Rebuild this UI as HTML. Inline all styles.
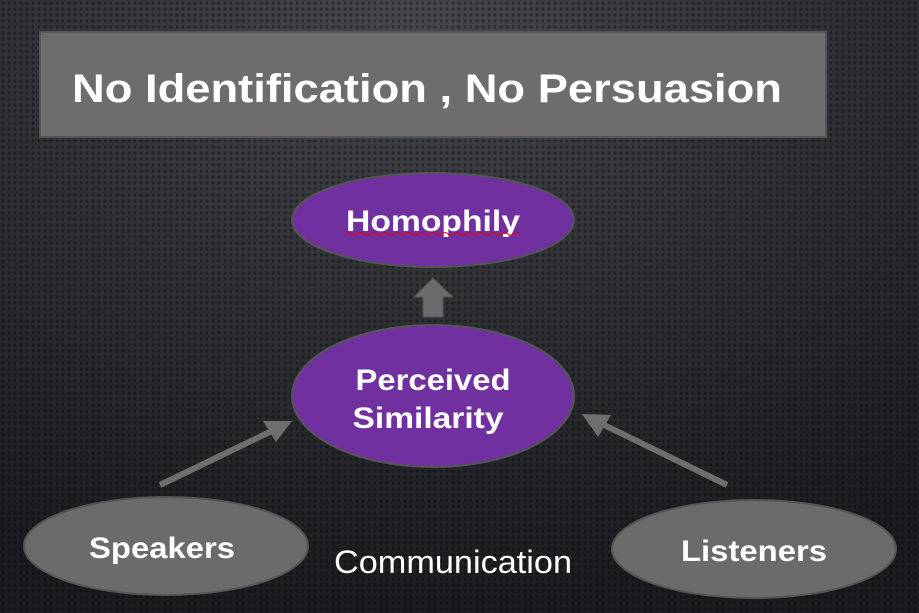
<!DOCTYPE html>
<html><head><meta charset="utf-8"><style>
html,body{margin:0;padding:0;background:#222;}
svg{display:block;}
text{font-family:"Liberation Sans",sans-serif;fill:#fff;}
</style></head><body>
<svg width="919" height="613" viewBox="0 0 919 613" xmlns="http://www.w3.org/2000/svg">
<defs>
<radialGradient id="bg" cx="0.45" cy="0.05" r="0.95">
<stop offset="0" stop-color="#45484d"/>
<stop offset="0.5" stop-color="#2e3034"/>
<stop offset="1" stop-color="#1b1c1f"/>
</radialGradient>
<pattern id="dots" width="6" height="6" patternUnits="userSpaceOnUse">
<circle cx="3" cy="3" r="1.6" fill="#000" fill-opacity="0.35"/>
</pattern>
</defs>
<rect width="919" height="613" fill="url(#bg)"/>
<rect width="919" height="613" fill="url(#dots)"/>
<rect x="40" y="32" width="786" height="105" fill="#6d6d6d" stroke="#555" stroke-width="2"/>
<text x="72" y="102" font-size="40" font-weight="bold" textLength="710" lengthAdjust="spacingAndGlyphs">No Identification , No Persuasion</text>
<ellipse cx="433" cy="220" rx="141" ry="47" fill="#7030a0" stroke="#555" stroke-width="2"/>
<text x="433" y="231" font-size="30" font-weight="bold" text-anchor="middle" textLength="174" lengthAdjust="spacingAndGlyphs">Homophily</text>
<path d="M346 234 q3 -3 6 0 t6 0 t6 0 t6 0 t6 0 t6 0 t6 0 t6 0 t6 0 t6 0 t6 0 t6 0 t6 0 t6 0 t6 0 t6 0 t6 0 t6 0 t6 0 t6 0 t6 0 t6 0 t6 0 t6 0 t6 0 t6 0 t6 0 t6 0 t6 0" fill="none" stroke="#e00" stroke-width="1"/>
<path d="M414 297 L433 278 L453 297 L443 297 L443 317 L423 317 L423 297 Z" fill="#6b6b6b" stroke="#555" stroke-width="1"/>
<ellipse cx="433" cy="396" rx="141" ry="71" fill="#7030a0" stroke="#555" stroke-width="2"/>
<text x="433" y="390" font-size="30" font-weight="bold" text-anchor="middle" textLength="155" lengthAdjust="spacingAndGlyphs">Perceived</text>
<text x="428" y="428" font-size="30" font-weight="bold" text-anchor="middle" textLength="151" lengthAdjust="spacingAndGlyphs">Similarity</text>
<line x1="160" y1="485" x2="278" y2="428" stroke="#6e6e6e" stroke-width="6"/>
<path d="M292 421 L263 421 L276 442 Z" fill="#6e6e6e"/>
<line x1="727" y1="485" x2="598" y2="422" stroke="#6e6e6e" stroke-width="6"/>
<path d="M582 414 L611 415 L598 437 Z" fill="#6e6e6e"/>
<ellipse cx="166" cy="546" rx="142" ry="49" fill="#6b6b6b" stroke="#555" stroke-width="2"/>
<text x="162" y="558" font-size="30" font-weight="bold" text-anchor="middle" textLength="146" lengthAdjust="spacingAndGlyphs">Speakers</text>
<ellipse cx="754" cy="549" rx="142" ry="49" fill="#6b6b6b" stroke="#555" stroke-width="2"/>
<text x="754" y="561" font-size="30" font-weight="bold" text-anchor="middle" textLength="146" lengthAdjust="spacingAndGlyphs">Listeners</text>
<text x="334" y="573" font-size="32" textLength="238" lengthAdjust="spacingAndGlyphs">Communication</text>
</svg>
</body></html>
